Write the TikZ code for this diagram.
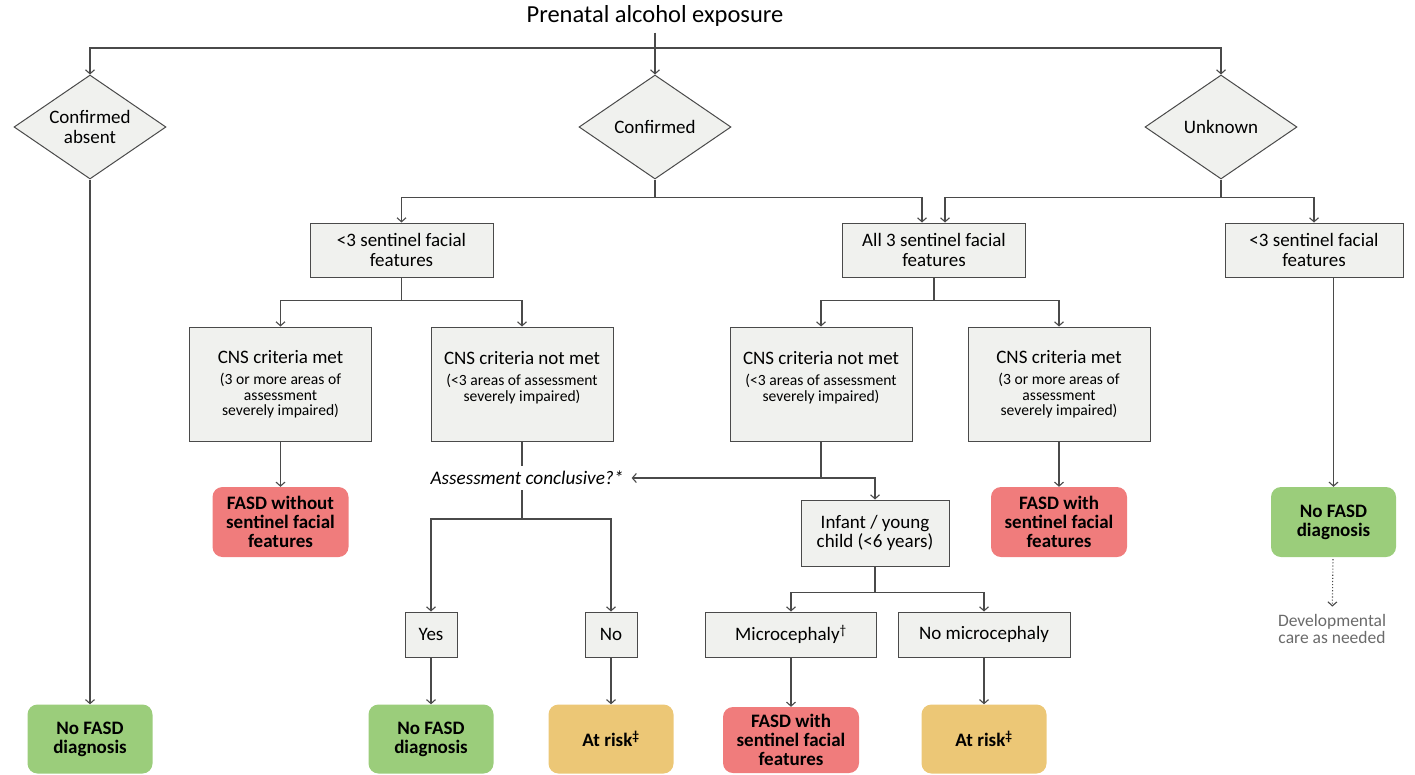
\documentclass[tikz,border=0pt]{standalone}
\usepackage{fontspec}
\setmainfont{Carlito}
\usetikzlibrary{shapes.geometric,arrows.meta}
\definecolor{linec}{HTML}{4A4A4A}
\definecolor{boxfill}{HTML}{F0F1EE}
\definecolor{redfill}{HTML}{F07C7C}
\definecolor{greenfill}{HTML}{9BCD7B}
\definecolor{yellowfill}{HTML}{ECC776}
\definecolor{devgray}{HTML}{6A6A6A}
\newcommand{\mainf}{\fontsize{19}{19.5}\selectfont}
\newcommand{\subf}{\fontsize{15.6}{15.5}\selectfont}
\newcommand{\resf}{\bfseries\fontsize{19}{19}\selectfont}
\tikzset{
  dia/.style={diamond, aspect=1.5, draw=linec, fill=boxfill, line width=1pt, minimum width=152pt, minimum height=104pt, inner sep=0pt, align=center, font=\mainf},
  gbox/.style={rectangle, draw=linec, fill=boxfill, line width=1pt, inner sep=0pt, align=center, font=\mainf},
  cbox/.style={gbox, font=\subf, minimum width=182pt, minimum height=114pt},
  outc/.style={rectangle, rounded corners=10pt, inner sep=0pt, align=center, font=\resf, minimum width=125pt, minimum height=69pt},
  ln/.style={draw=linec, line width=1.1pt},
  arr/.style={ln, -{Straight Barb[length=4pt,width=9pt]}},
}
\begin{document}
\begin{tikzpicture}[x=1pt,y=-1pt]
  \useasboundingbox (0,0) rectangle (1415,774);
  \node[font=\fontsize{24.5}{26}\selectfont, inner ysep=6pt] (title) at (655,16) {Prenatal alcohol exposure};
  \node[dia] (absent) at (90,127) {Confirmed\\absent};
  \node[dia] (conf) at (655,127) {Confirmed};
  \node[dia] (unk) at (1221,127) {Unknown};

  \node[gbox, minimum width=183pt, minimum height=54pt] (lt3a) at (401.5,250) {<3 sentinel facial\\features};
  \node[gbox, minimum width=183pt, minimum height=54pt] (all3) at (934,250) {All 3 sentinel facial\\features};
  \node[gbox, minimum width=178pt, minimum height=54pt] (lt3b) at (1314,250) {<3 sentinel facial\\features};

  \node[cbox] (cnsA) at (280.5,384) {{\mainf CNS criteria met}\\[6pt](3 or more areas of\\assessment\\severely impaired)};
  \node[cbox] (cnsB) at (522,384) {{\mainf CNS criteria not met}\\[6pt](<3 areas of assessment\\severely impaired)\\\mbox{}};
  \node[cbox] (cnsC) at (821,384) {{\mainf CNS criteria not met}\\[6pt](<3 areas of assessment\\severely impaired)\\\mbox{}};
  \node[cbox] (cnsD) at (1059,384) {{\mainf CNS criteria met}\\[6pt](3 or more areas of\\assessment\\severely impaired)};

  \node[outc, fill=redfill, minimum width=136pt, minimum height=70pt] (fasdA) at (280.5,522) {FASD without\\sentinel facial\\features};
  \node[outc, fill=redfill, minimum width=136pt, minimum height=70pt] (fasdB) at (1059,522) {FASD with\\sentinel facial\\features};
  \node[outc, fill=greenfill, minimum height=70pt] (nofB) at (1333.5,522) {No FASD\\diagnosis};
  \node[align=center, text=devgray, font=\fontsize{17.5}{17.5}\selectfont] (dev) at (1332,629) {Developmental\\care as needed};

  \node[font=\itshape\fontsize{19.2}{19}\selectfont, inner xsep=8pt, inner ysep=5pt] (ask) at (527,478) {Assessment conclusive?*};
  \node[gbox, minimum width=148pt, minimum height=66pt] (inf) at (875,533) {Infant / young\\child (<6 years)};

  \node[gbox, minimum width=52pt, minimum height=45pt] (yes) at (431,634.5) {Yes};
  \node[gbox, minimum width=52pt, minimum height=45pt] (no) at (611,634.5) {No};
  \node[gbox, minimum width=171pt, minimum height=45pt] (micro) at (791,634.5) {Microcephaly\textsuperscript{\textdagger}};
  \node[gbox, minimum width=172pt, minimum height=45pt] (nomic) at (984,634.5) {No microcephaly};

  \node[outc, fill=greenfill] (nofA) at (90,739) {No FASD\\diagnosis};
  \node[outc, fill=greenfill] (nofC) at (431,739) {No FASD\\diagnosis};
  \node[outc, fill=yellowfill] (riskA) at (611,739) {At risk\textsuperscript{\textdaggerdbl}};
  \node[outc, fill=redfill, minimum width=136pt, minimum height=66pt] (fasdC) at (791,740) {FASD with\\sentinel facial\\features};
  \node[outc, fill=yellowfill] (riskB) at (984,739) {At risk\textsuperscript{\textdaggerdbl}};

  \coordinate (jt) at (655,48);
  \draw[arr] (title) -- (conf);
  \draw[arr] (jt) -| (absent);
  \draw[arr] (jt) -| (unk);
  \draw[arr] (absent) -- (nofA);

  \draw[ln] (conf.south) -- ++(0,18) coordinate (jc);
  \draw[arr] (jc) -| (lt3a);
  \draw[arr] (jc) -| ([xshift=-12pt]all3.north);
  \draw[ln] (unk.south) -- ++(0,18) coordinate (ju);
  \draw[arr] (ju) -| ([xshift=11pt]all3.north);
  \draw[arr] (ju) -| (lt3b);

  \draw[ln] (lt3a.south) -- ++(0,23) coordinate (jl);
  \draw[arr] (jl) -| (cnsA);
  \draw[arr] (jl) -| (cnsB);
  \draw[ln] (all3.south) -- ++(0,23) coordinate (ja);
  \draw[arr] (ja) -| (cnsC);
  \draw[arr] (ja) -| (cnsD);
  \draw[arr] (lt3b.south -| nofB.north) -- (nofB);
  \draw[arr, dotted, shorten <=2pt, shorten >=4pt] (nofB) -- (dev);

  \draw[arr] (cnsA) -- (fasdA);
  \draw[arr] (cnsD) -- (fasdB);
  \draw[ln] (cnsB.south) -- (cnsB.south |- ask.north);
  \coordinate (jq) at (522,519);
  \draw[ln] (ask.south -| jq) -- (jq);
  \draw[arr] (jq) -| (yes);
  \draw[arr] (jq) -| (no);
  \draw[arr] (cnsC) |- (ask);
  \draw[arr] (cnsC.south |- ask) -| (inf);

  \draw[ln] (inf.south) -- ++(0,26) coordinate (ji);
  \draw[arr] (ji) -| (micro);
  \draw[arr] (ji) -| (nomic);
  \draw[arr] (yes) -- (nofC);
  \draw[arr] (no) -- (riskA);
  \draw[arr] (micro) -- (fasdC);
  \draw[arr] (nomic) -- (riskB);
\end{tikzpicture}
\end{document}
